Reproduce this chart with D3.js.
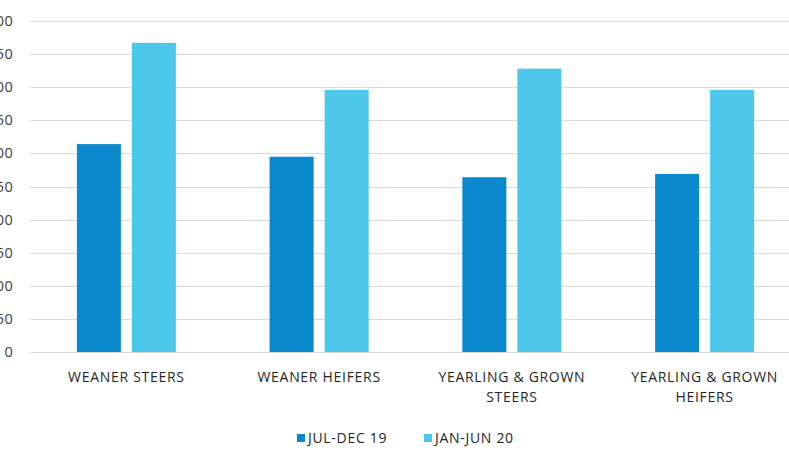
<!DOCTYPE html>
<html><head><meta charset="utf-8">
<script src="https://cdn.jsdelivr.net/npm/d3@7"></script>
<style>body{margin:0;background:#fff}svg{display:block}text{font-family:"Open Sans",sans-serif;letter-spacing:0.7px}</style>
</head><body><svg id="c" width="789" height="459"></svg>
<script>
const categories = [["WEANER STEERS"],["WEANER HEIFERS"],["YEARLING & GROWN","STEERS"],["YEARLING & GROWN","HEIFERS"]];
const seriesNames = ["JUL-DEC 19","JAN-JUN 20"];
const julDec19 = [314, 295, 264, 269];
const janJun20 = [467, 396, 428, 396];
const yTicks = [0,50,100,150,200,250,300,350,400,450,500];
const colors = ["#0A88CE","#4DC7EA"];

(function(){
const svg = d3.select("#c");
const mLeft = 30, mRight = 801, mTop = 21, mBottom = 352;
const x0 = d3.scaleBand().domain(d3.range(categories.length)).range([mLeft, mRight]).paddingInner(0).paddingOuter(0);
const y = d3.scaleLinear().domain([0,500]).range([mBottom, mTop]);
const x1 = d3.scaleBand().domain([0,1]).range([0, x0.bandwidth()]).paddingInner(0.2).paddingOuter(0.852);

svg.append("g").selectAll("line").data(yTicks).join("line")
  .attr("x1", mLeft).attr("x2", 789)
  .attr("y1", d=>Math.round(y(d))+0.5).attr("y2", d=>Math.round(y(d))+0.5)
  .attr("stroke", "#d9d9d9").attr("stroke-width", 1);

svg.append("g").selectAll("text").data(yTicks).join("text")
  .attr("x", 13).attr("y", d=>y(d)).attr("dy","0.35em")
  .attr("text-anchor","end").attr("font-size", 14.5).attr("fill","#404040")
  .style("letter-spacing","0.3px")
  .text(d=>d);

const series = [julDec19, janJun20];
series.forEach((vals, si) => {
  svg.append("g").selectAll("rect").data(vals).join("rect")
    .attr("x", (d,i)=>x0(i)+x1(si))
    .attr("width", x1.bandwidth())
    .attr("y", d=>y(d))
    .attr("height", d=>mBottom - y(d))
    .attr("fill", colors[si]);
});

const xl = svg.append("g");
categories.forEach((lines, i) => {
  const cx = x0(i) + x0.bandwidth()/2;
  lines.forEach((t, li) => {
    xl.append("text").attr("x", cx).attr("y", 377 + li*20).attr("dy","0.35em")
      .attr("text-anchor","middle").attr("font-size", 14).attr("fill","#262626").text(t);
  });
});

const lg = svg.append("g");
const legX = [297, 424];
seriesNames.forEach((n, i) => {
  lg.append("rect").attr("x", legX[i]).attr("y", 434).attr("width", 8).attr("height", 8).attr("fill", colors[i]);
  lg.append("text").attr("x", legX[i]+11).attr("y", 438).attr("dy","0.35em")
    .attr("font-size", 14).attr("fill","#262626").text(n);
});
})();
</script></body></html>
